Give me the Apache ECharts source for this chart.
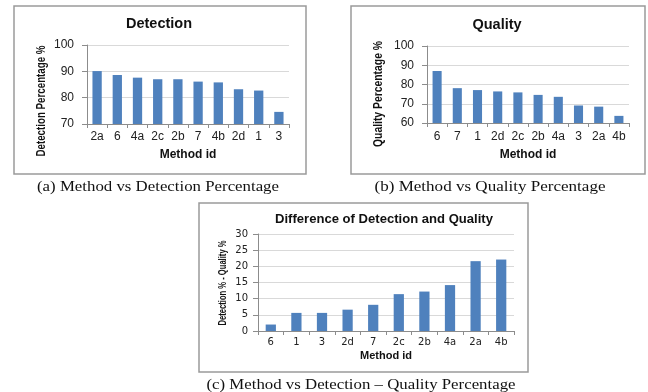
<!DOCTYPE html>
<html><head><meta charset="utf-8">
<script src="https://cdn.jsdelivr.net/npm/echarts@6/dist/echarts.min.js"></script>
<style>html,body{margin:0;padding:0;background:#fff}#c{width:648px;height:392px}</style>
</head><body><div id="c"></div>
<script>
// Chart (a) Detection
const detCategories = ['2a','6','4a','2c','2b','7','4b','2d','1','3'];
const detValues = [90.1, 88.6, 87.6, 87.0, 87.0, 86.1, 85.8, 83.2, 82.7, 74.6];
// Chart (b) Quality
const qualCategories = ['6','7','1','2d','2c','2b','4a','3','2a','4b'];
const qualValues = [87.0, 78.1, 77.1, 76.4, 75.9, 74.6, 73.6, 69.1, 68.5, 63.7];
// Chart (c) Difference
const diffCategories = ['6','1','3','2d','7','2c','2b','4a','2a','4b'];
const diffValues = [2.0, 5.6, 5.6, 6.6, 8.1, 11.4, 12.2, 14.2, 21.6, 22.1];

const BAR = '#4f81bd';
const AX = '#8c8c8c';
const GRIDC = '#d9d9d9';
const SANS = "'Liberation Sans', Arial, sans-serif";
const DV = "'DejaVu Sans', Verdana, sans-serif";
const SERIF = "'Liberation Serif', 'Times New Roman', serif";

const mctx = document.createElement('canvas').getContext('2d');
function fit(t, font, target){ mctx.font = font; return target / mctx.measureText(t).width; }

function xAx(i, cats, fs, fam, margin, gap, nfs){
  return {type:'category', gridIndex:i, data:cats,
    axisLine:{lineStyle:{color:AX}}, axisTick:{show:true, length:4, lineStyle:{color:AX}},
    axisLabel:{color:'#222', fontSize:fs, fontFamily:fam, margin:margin, interval:0},
    name:'Method id', nameLocation:'middle', nameGap:gap,
    nameTextStyle:{color:'#111', fontWeight:'bold', fontSize:nfs, fontFamily:SANS}};
}
function yAx(i, min, max, itv, fs, fam, margin){
  return {type:'value', gridIndex:i, min:min, max:max, interval:itv,
    axisLine:{show:true, lineStyle:{color:AX}}, axisTick:{show:true, length:5, lineStyle:{color:AX}},
    splitLine:{lineStyle:{color:GRIDC}},
    axisLabel:{color:'#222', fontSize:fs, fontFamily:fam, margin:margin}};
}
function txt(x, y, t, fs, fam, bold, target, rot){
  const font = (bold?'bold ':'') + fs + 'px ' + fam;
  const s = target ? fit(t, font, target) : 1;
  return {type:'text', x:x, y:y, rotation:rot||0, scaleX:s,
    style:{text:t, x:0, y:0, fill:'#111', font:font, textAlign:'center', textVerticalAlign:'middle'}};
}
function frame(x1,y1,x2,y2){
  return {type:'rect', shape:{x:x1, y:y1, width:x2-x1, height:y2-y1},
    style:{fill:'none', stroke:'#9a9a9a', lineWidth:1.5}};
}

const chart = echarts.init(document.getElementById('c'), null, {renderer:'canvas'});
chart.setOption({
  animation:false,
  grid:[
    {left:87, top:45, width:202, height:79},
    {left:427, top:46, width:202, height:77},
    {left:258, top:234, width:256, height:97}
  ],
  xAxis:[
    xAx(0, detCategories, 12, SANS, 7, 25, 12),
    xAx(1, qualCategories, 12, SANS, 8, 26, 12),
    xAx(2, diffCategories, 10, DV, 6, 19, 11)
  ],
  yAxis:[
    yAx(0, 70, 100, 10, 12, SANS, 13),
    yAx(1, 60, 100, 10, 12, SANS, 13),
    yAx(2, 0, 30, 5, 10, DV, 10)
  ],
  series:[
    {type:'bar', xAxisIndex:0, yAxisIndex:0, data:detValues, barWidth:'46%', itemStyle:{color:BAR}},
    {type:'bar', xAxisIndex:1, yAxisIndex:1, data:qualValues, barWidth:'45%', itemStyle:{color:BAR}},
    {type:'bar', xAxisIndex:2, yAxisIndex:2, data:diffValues, barWidth:'40%', itemStyle:{color:BAR}}
  ],
  graphic:[
    frame(14,6,306,174), frame(351,6,645,174), frame(199,203,528,372),
    txt(159,24,'Detection',14.5,SANS,true),
    txt(497,25,'Quality',14.5,SANS,true),
    txt(384,219,'Difference of Detection and Quality',13,SANS,true,218),
    txt(41,101,'Detection Percentage %',13,SANS,true,111,Math.PI/2),
    txt(378,94,'Quality Percentage %',13,SANS,true,106,Math.PI/2),
    txt(223,283,'Detection % - Quality %',11,SANS,true,85,Math.PI/2),
    txt(158,187,'(a) Method vs Detection Percentage',15,SERIF,false,242),
    txt(490,187,'(b) Method vs Quality Percentage',15,SERIF,false,231),
    txt(361,385,'(c) Method vs Detection \u2013 Quality Percentage',15,SERIF,false,309)
  ]
});
</script></body></html>
